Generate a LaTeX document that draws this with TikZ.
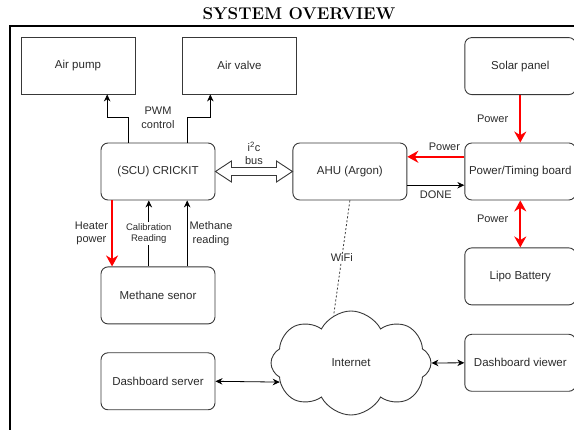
\documentclass[tikz,border=0pt]{standalone}
\usepackage{fontspec}
\setsansfont{Liberation Sans}
\usepackage{tikz}
\usetikzlibrary{arrows.meta,shapes,shapes.symbols,positioning,calc}
\definecolor{boxgray}{HTML}{383838}
\definecolor{txtgray}{HTML}{2A2A2A}
\newcommand\bxfont{\sffamily\fontsize{11.5}{13}\selectfont}
\newcommand\lblfont{\sffamily\fontsize{11}{13.5}\selectfont}
\newcommand\smlfont{\sffamily\fontsize{9.5}{11.5}\selectfont}
\newcommand\ttlfont{\fontsize{17}{20}\selectfont\bfseries}
\tikzstyle{frame}=[line width=1.5pt]
\tikzstyle{box}=[draw=boxgray,line width=0.9pt,minimum width=114pt,minimum height=57pt,
                inner sep=2pt,font=\bxfont,text=txtgray]
\tikzstyle{rbox}=[box,rounded corners=7pt]
\tikzstyle{rcol}=[rbox,minimum width=111pt]
\tikzstyle{netcloud}=[cloud,draw=boxgray,line width=0.9pt,cloud puffs=8,cloud puff arc=125,
                aspect=1.5,minimum width=160pt,minimum height=104pt,inner sep=0pt,
                font=\bxfont,text=txtgray]
\tikzstyle{lbl}=[font=\lblfont,text=txtgray,align=center,inner sep=1pt]
\tikzstyle{sml}=[font=\smlfont]
\tikzstyle{blk}=[-{Stealth[length=7pt,width=6.5pt]},line width=0.8pt]
\tikzstyle{blk2}=[{Stealth[length=7pt,width=6.5pt]}-{Stealth[length=7pt,width=6.5pt]},line width=0.8pt]
\tikzstyle{pwr}=[-{Stealth[length=11pt,width=12pt]},draw=red,line width=2.2pt]
\tikzstyle{pwr2}=[{Stealth[length=11pt,width=12pt]}-{Stealth[length=11pt,width=12pt]},draw=red,line width=2.2pt]
\tikzstyle{hollow}=[draw=boxgray,line width=0.9pt,fill=white]
\tikzstyle{wifi}=[draw=boxgray,line width=0.8pt,dash pattern=on 2pt off 2pt]

\begin{document}
\begin{tikzpicture}[x=1pt,y=-1pt]
\useasboundingbox (0,0) rectangle (574,430);
\draw[frame] (10,430) -- (10,26) -- (574,26);
\node (title) at (299,14) {\ttlfont SYSTEM OVERVIEW};

% boxes
\node (crickit) [rbox] at (158,171.5) {(SCU) CRICKIT};
\node (ahu) [rbox,right=77pt of crickit] {AHU (Argon)};
\node (ptb) [rcol,right=57pt of ahu] {Power/Timing board};
\node (solar) [rcol,above=47.5pt of ptb] {Solar panel};
\node (lipo) [rcol,below=47pt of ptb] {Lipo Battery};
\node (viewer) [rcol,below=28.5pt of lipo] {Dashboard viewer};
\node (airpump) [box] at (78,65.5) {Air pump};
\node (airvalve) [box] at (239.5,65.5) {Air valve};
\node (methane) [rbox,below=66pt of crickit] {Methane senor};
\node (server) [rbox,below=28pt of methane] {Dashboard server};
\node (net) [netcloud] at (351,363) {Internet};

% PWM control
\coordinate (c1) at ($(crickit.north west)!0.246!(crickit.north east)$);
\coordinate (c2) at ($(crickit.north west)!0.754!(crickit.north east)$);
\coordinate (p1) at ($(airpump.south west)!0.754!(airpump.south east)$);
\coordinate (v1) at ($(airvalve.south west)!0.246!(airvalve.south east)$);
\draw[blk] (c1) -- ++(0,-25) -| (p1);
\draw[blk] (c2) -- ++(0,-25) -| (v1);
\node (pwm) [lbl] at ($(crickit.north)+(0,-25)$) {PWM\\control};

% i2c bus
\draw[hollow] let \p1=(crickit.east), \p2=(ahu.west) in
  (\p1) -- ++(16pt,10.5pt) -- ++(0pt,-6.5pt) -- (\x2-16pt,\y1+4pt) -- ++(0pt,6.5pt)
  -- (\p2) -- ++(-16pt,-10.5pt) -- ++(0pt,6.5pt) -- (\x1+16pt,\y1-4pt) -- ++(0pt,-6.5pt) -- cycle;
\node (i2c) [lbl] at ($(crickit.east)!0.5!(ahu.west)+(0,-18)$) {i\textsuperscript{2}c\\bus};

% power lines
\draw[pwr] (solar) -- (ptb) node[lbl,midway,left=10pt] {Power};
\coordinate (pt1) at ($(ptb.north west)!0.246!(ptb.south west)$);
\coordinate (pt2) at ($(ptb.north west)!0.737!(ptb.south west)$);
\draw[pwr] (pt1) -- (pt1 -| ahu.east) node[lbl,pos=0.35,above=4pt] {Power};
\draw[blk] (pt2 -| ahu.east) -- (pt2) node[lbl,midway,below=4pt] {DONE};
\draw[pwr2] (ptb) -- (lipo) node[lbl,pos=0.4,left=10pt] {Power};

% sensor
\coordinate (h1) at ($(crickit.south west)!0.1!(crickit.south east)$);
\coordinate (h2) at ($(methane.north west)!0.42!(methane.north east)$);
\coordinate (h3) at ($(methane.north west)!0.754!(methane.north east)$);
\draw[pwr] (h1) -- (h1 |- methane.north) node[lbl,midway,left=2pt] {Heater\\power};
\draw[blk] (h2) -- (h2 |- crickit.south) node[lbl,sml,midway,fill=white] {Calibration\\Reading};
\draw[blk] (h3) -- (h3 |- crickit.south) node[lbl,midway,right=1pt] {Methane\\reading};

% network
\draw[wifi] (ahu.south) -- (net.110) node[lbl,midway,fill=white] {WiFi};
\draw[blk2] (server.east) -- (net.195);
\draw[blk2] (net.east) -- (viewer.west);
\end{tikzpicture}
\end{document}
